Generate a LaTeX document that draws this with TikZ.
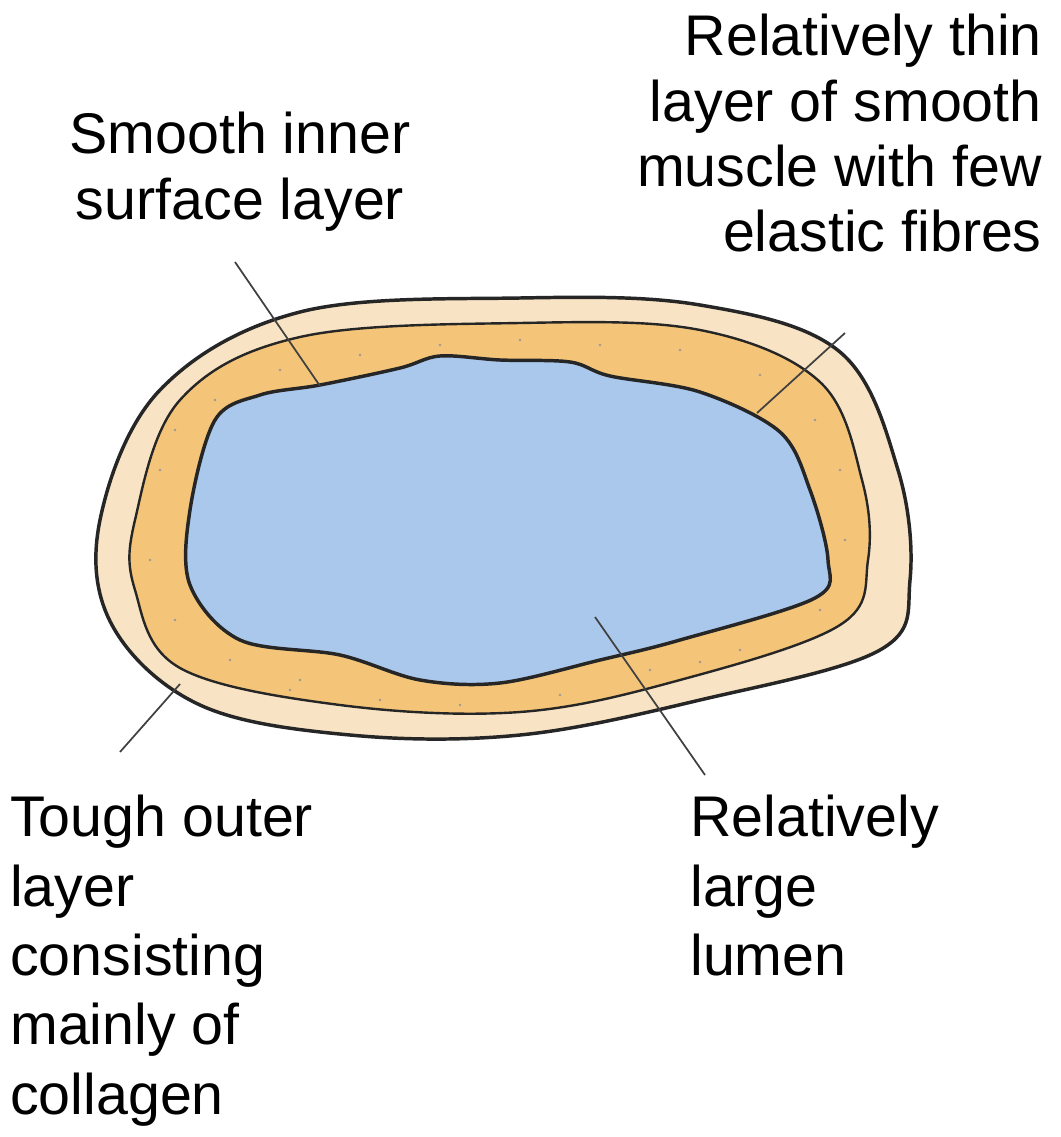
\documentclass[tikz,border=0pt]{standalone}
\usepackage{fontspec}
\setmainfont{Liberation Sans}
\begin{document}
\begin{tikzpicture}[x=0.75pt,y=-0.75pt,
  lbl/.style={font=\fontsize{43}{49}\selectfont, inner sep=0pt},
  lbltall/.style={font=\fontsize{43}{52}\selectfont, inner sep=0pt},
  lead/.style={draw=black!75, line width=1.3pt},
  wall/.style={draw=black!85, line width=2.6pt}]
\useasboundingbox (0,0) rectangle (1060,1137);
\fill[white] (0,0) rectangle (1060,1137);
% outer layer
\draw[wall, fill={rgb,255:red,248;green,228;blue,196}] plot[smooth cycle, tension=0.6] coordinates {(100,520) (160,390) (300,312) (520,298) (700,305) (840,352) (898,470) (910,580) (880,650) (700,700) (520,735) (350,735) (200,705) (112,625)};
% middle layer
\draw[draw=black!85, line width=1.8pt, fill={rgb,255:red,244;green,196;blue,120}] plot[smooth cycle, tension=0.6] coordinates {(135,520) (180,400) (300,337) (520,323) (700,330) (820,382) (862,480) (868,560) (840,625) (680,680) (520,712) (340,705) (180,668) (135,590)};
% dots
\foreach \p in {(160,470),(150,560),(175,620),(230,660),(300,680),(380,700),(460,705),(560,695),(650,670),(740,650),(820,610),(845,540),(840,470),(815,420),(760,375),(680,350),(600,345),(520,340),(440,345),(360,355),(280,370),(215,400),(175,430),(290,690),(700,662)}
  \fill[black!40] \p circle (1.3);
% lumen
\draw[wall, fill={rgb,255:red,170;green,200;blue,236}] plot[smooth cycle, tension=0.55] coordinates {(190,510) (215,420) (260,395) (320,385) (400,368) (440,356) (500,360) (570,362) (610,376) (700,392) (780,432) (810,490) (828,560) (815,598) (680,640) (600,660) (500,683) (420,680) (340,655) (240,640) (190,585)};
% labels
\node[lbl, align=center, anchor=north] (smooth) at (240,112) {Smooth inner\\surface layer};
\node[lbl, align=right, anchor=north east] (thin) at (1042,14) {Relatively thin\\layer of smooth\\muscle with few\\elastic fibres};
\node[lbltall, align=left, anchor=north west] (tough) at (10,795) {Tough outer\\layer\\consisting\\mainly of\\collagen};
\node[lbltall, align=left, anchor=north west] (lumen) at (690,795) {Relatively\\large\\lumen};
% leader lines
\coordinate (s1) at (235,262); \coordinate (s2) at (320,386);
\coordinate (t1) at (845,333); \coordinate (t2) at (757,413);
\coordinate (o1) at (120,752); \coordinate (o2) at (180,684);
\coordinate (l1) at (595,617); \coordinate (l2) at (705,775);
\draw[lead] (s1) -- (s2);
\draw[lead] (t1) -- (t2);
\draw[lead] (o1) -- (o2);
\draw[lead] (l1) -- (l2);
\end{tikzpicture}
\end{document}
